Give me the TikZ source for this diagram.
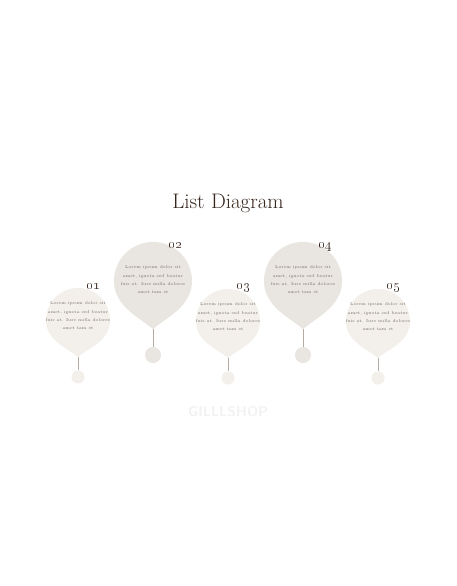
\documentclass[tikz,border=0pt]{standalone}
\usetikzlibrary{calc}
\definecolor{inkbrown}{HTML}{35251C}
\definecolor{bodygray}{HTML}{7A6E66}
\definecolor{stemgray}{HTML}{B3ACA6}
\definecolor{paleball}{HTML}{F3F0EC}
\definecolor{darkball}{HTML}{E9E5E0}
\definecolor{wmgray}{HTML}{F2F2F2}
\def\balloon[#1](#2,#3)(#4:#5){\fill[#1] ({#2},{#3-#5}) .. controls ({#2-0.35*#4},{#3-#5+0.3*#4}) and ({#2-#4},{#3-0.65*#4}) .. ({#2-#4},{#3}) arc (180:0:#4) .. controls ({#2+#4},{#3-0.65*#4}) and ({#2+0.35*#4},{#3-#5+0.3*#4}) .. ({#2},{#3-#5}) -- cycle;}
\tikzset{
	body/.style={text=bodygray, align=center, font=\fontsize{4.2}{8.3}\selectfont, inner sep=0pt},
	num/.style={text=inkbrown, anchor=base, font=\bfseries\fontsize{14}{14}\selectfont, inner sep=0pt},
	dot/.style={circle, inner sep=0pt},
	stem/.style={draw=stemgray, line width=0.6pt}
}

\begin{document}
\begin{tikzpicture}[x=1pt, y=1pt]
		%%%%% START %%%%%
		\useasboundingbox[fill=white] (0,0) rectangle (456,-586);
		
		\node[text=inkbrown, font=\fontsize{21}{21}\selectfont] (title) at (228,-203) {List Diagram};
		
		% item 01
		\balloon[fill=paleball](78,-320)(32:37);
		\coordinate (tip1) at (78,-357);
		\node[dot, fill=paleball, minimum size=13pt] (dot1) at (78,-377) {};
		\draw[stem] (tip1) -- (dot1);
		\node[body] (txt1) at (78,-316) {Lorem ipsum dolor sit\\amet, ignota sed beatur\\fuis at. Iure nulla dolores\\amet tam et};
		\node[num] (num1) at (93,-289) {\oldstylenums{01}};
		
		% item 02
		\balloon[fill=darkball](153,-281)(39:48);
		\coordinate (tip2) at (153,-329);
		\node[dot, fill=darkball, minimum size=16pt] (dot2) at (153,-355) {};
		\draw[stem] (tip2) -- (dot2);
		\node[body] (txt2) at (153,-280) {Lorem ipsum dolor sit\\amet, ignota sed beatur\\fuis at. Iure nulla dolores\\amet tam et};
		\node[num] (num2) at (175,-248) {\oldstylenums{02}};
		
		% item 03
		\balloon[fill=paleball](228,-321)(32:37);
		\coordinate (tip3) at (228,-358);
		\node[dot, fill=paleball, minimum size=13pt] (dot3) at (228,-378) {};
		\draw[stem] (tip3) -- (dot3);
		\node[body] (txt3) at (228,-317) {Lorem ipsum dolor sit\\amet, ignota sed beatur\\fuis at. Iure nulla dolores\\amet tam et};
		\node[num] (num3) at (243,-289) {\oldstylenums{03}};
		
		% item 04
		\balloon[fill=darkball](303,-281)(39:48);
		\coordinate (tip4) at (303,-329);
		\node[dot, fill=darkball, minimum size=16pt] (dot4) at (303,-355) {};
		\draw[stem] (tip4) -- (dot4);
		\node[body] (txt4) at (303,-280) {Lorem ipsum dolor sit\\amet, ignota sed beatur\\fuis at. Iure nulla dolores\\amet tam et};
		\node[num] (num4) at (325,-248) {\oldstylenums{04}};
		
		% item 05
		\balloon[fill=paleball](378,-321)(32:37);
		\coordinate (tip5) at (378,-358);
		\node[dot, fill=paleball, minimum size=13pt] (dot5) at (378,-378) {};
		\draw[stem] (tip5) -- (dot5);
		\node[body] (txt5) at (378,-317) {Lorem ipsum dolor sit\\amet, ignota sed beatur\\fuis at. Iure nulla dolores\\amet tam et};
		\node[num] (num5) at (393,-289) {\oldstylenums{05}};
		
		\node[text=wmgray, font=\sffamily\bfseries\fontsize{14}{14}\selectfont] (wm) at (228,-412) {GILLLSHOP};
		%%%%% END %%%%%
	\end{tikzpicture}
\end{document}
